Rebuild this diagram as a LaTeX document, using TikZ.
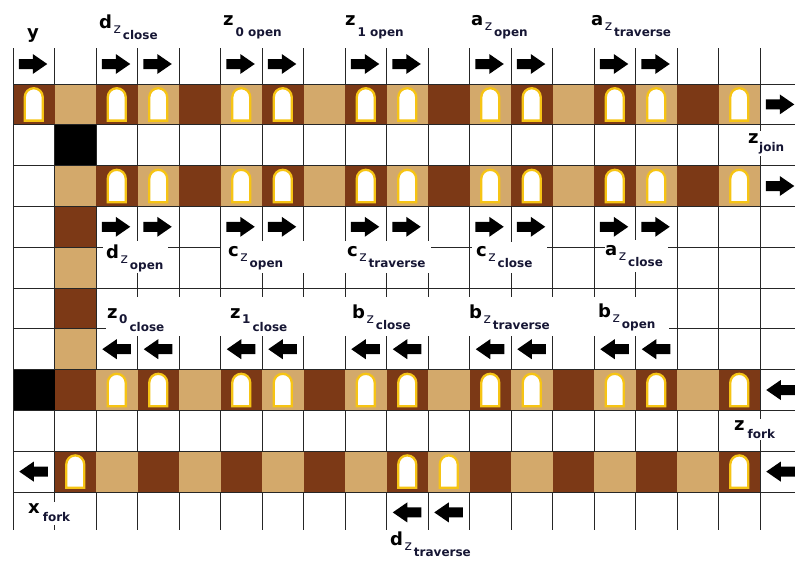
\documentclass[tikz,border=0pt]{standalone}
\usepackage{fontspec}
\setmainfont{DejaVu Sans}
\definecolor{dk}{RGB}{124,57,22}
\definecolor{tn}{RGB}{211,169,107}
\definecolor{doorc}{RGB}{246,196,20}
\definecolor{gridc}{RGB}{38,38,38}
\definecolor{subc}{RGB}{22,22,52}
\newcommand\mainf{\fontsize{18}{20}\selectfont\bfseries}
\newcommand\zf{\fontsize{14}{16}\selectfont\mdseries}
\newcommand\wf{\fontsize{12}{14}\selectfont\bfseries}
\newcommand\lzw[2]{{\mainf #1}\hspace{1.5pt}\raisebox{-5pt}{\color{subc}\zf z}\hspace{2pt}\raisebox{-11pt}{\color{subc}\wf #2}}
\newcommand\lwd[4]{{\mainf #1}\hspace{#3}\raisebox{-#4}{\color{subc}\wf #2}}
\newcommand\lnn[3]{{\mainf #1}\hspace{1.5pt}\raisebox{-5pt}{\color{subc}\wf #2}\hspace{2pt}\raisebox{-13pt}{\color{subc}\wf #3}}
\begin{document}
\begin{tikzpicture}[x=1pt,y=-1pt,
  declare function={cx(\a)=33.75+41.5*\a; ry(\a)=84+40.8*(\a-1);},
  gridline/.style={draw=gridc,line width=1pt},
  lab/.style={anchor=base west,inner sep=0pt,text=black},
  mask/.style={fill=white},
  door/.pic={\filldraw[fill=white,draw=doorc,line width=2.3pt] (-9,16.2) -- (-9,-7.2) .. controls (-9,-12.2) and (-5,-16.2) .. (0,-16.2) .. controls (5,-16.2) and (9,-12.2) .. (9,-7.2) -- (9,16.2) -- cycle;},
  rarr/.pic={\fill[black] (-14,-5) -- (0,-5) -- (0,-10) -- (14.5,0) -- (0,10) -- (0,5) -- (-14,5) -- cycle;},
  larr/.pic={\fill[black] (14,-5) -- (0,-5) -- (0,-10) -- (-14.5,0) -- (0,10) -- (0,5) -- (14,5) -- cycle;}]
\useasboundingbox (0,0) rectangle (795,562);
\fill[white] (0,0) rectangle (795,562);
% coloured cells
\foreach \k in {0,...,17}{
  \ifodd\k \def\ca{tn}\def\cb{dk}\else\def\ca{dk}\def\cb{tn}\fi
  \fill[\ca] ({13+41.5*\k},{ry(1)}) rectangle ++(41.8,40.8);
  \ifnum\k>0
    \fill[\ca] ({13+41.5*\k},{ry(3)}) rectangle ++(41.8,40.8);
    \fill[\cb] ({13+41.5*\k},{ry(8)}) rectangle ++(41.8,40.8);
    \fill[\cb] ({13+41.5*\k},{ry(10)}) rectangle ++(41.8,40.8);
  \fi
}
\fill[black] (54.5,{ry(2)}) rectangle ++(41.5,40.8);
\fill[black] (13,{ry(8)}) rectangle ++(41.5,40.8);
\fill[dk] (54.5,{ry(4)}) rectangle ++(41.5,40.8);
\fill[tn] (54.5,{ry(5)}) rectangle ++(41.5,40.8);
\fill[dk] (54.5,{ry(6)}) rectangle ++(41.5,40.8);
\fill[tn] (54.5,{ry(7)}) rectangle ++(41.5,40.8);
% grid lines
\foreach \j in {1,...,11} \draw[gridline] (13,{ry(\j)}) -- (795,{ry(\j)});
\foreach \k in {1,...,17}{
  \draw[gridline] ({13+41.5*\k},48) -- ({13+41.5*\k},{ry(1)});
  \draw[gridline] ({13+41.5*\k},{ry(2)}) -- ({13+41.5*\k},{ry(3)});
  \draw[gridline] ({13+41.5*\k},{ry(4)}) -- ({13+41.5*\k},{ry(8)});
  \draw[gridline] ({13+41.5*\k},{ry(9)}) -- ({13+41.5*\k},{ry(10)});
  \draw[gridline] ({13+41.5*\k},{ry(11)}) -- ({13+41.5*\k},530);
}
\draw[gridline] (13,48) -- (13,530);
\draw[gridline] (760,48) -- (760,530);
\draw[gridline] (54.5,{ry(3)}) -- (54.5,{ry(4)});
\draw[gridline] (54.5,{ry(10)}) -- (54.5,{ry(11)});
% doors
\foreach \k in {0,2,3,5,6,8,9,11,12,14,15,17} \pic at ({cx(\k)},{ry(1)+20.4}) {door};
\foreach \k in {2,3,5,6,8,9,11,12,14,15,17}{
  \pic at ({cx(\k)},{ry(3)+20.4}) {door};
  \pic at ({cx(\k)},{ry(8)+20.4}) {door};
}
\foreach \k in {1,9,10,17} \pic at ({cx(\k)},{ry(10)+20.4}) {door};
% arrows
\foreach \k in {0,2,3,5,6,8,9,11,12,14,15} \pic at ({cx(\k)-1},64) {rarr};
\foreach \k in {2,3,5,6,8,9,11,12,14,15}{
  \pic at ({cx(\k)-1},{ry(4)+20.4}) {rarr};
  \pic at ({cx(\k)},{ry(7)+20.4}) {larr};
}
\pic at ({cx(18)-1},{ry(1)+20.4}) {rarr};
\pic at ({cx(18)-1},{ry(3)+20.4}) {rarr};
\pic at ({cx(18)},{ry(8)+20.4}) {larr};
\pic at ({cx(18)},{ry(10)+20.4}) {larr};
\pic at ({cx(0)},{ry(10)+20.4}) {larr};
\foreach \k in {9,10} \pic at ({cx(\k)},{ry(11)+20.4}) {larr};
% white boxes behind labels
\fill[mask] (103,241) rectangle (168,273);
\fill[mask] (221.3,241) rectangle (431,273);
\fill[mask] (472,242) rectangle (547,273);
\fill[mask] (605,240) rectangle (668,272);
\fill[mask] (106,297) rectangle (669,336);
\fill[mask] (745,131) rectangle (781,156);
\fill[mask] (731,419) rectangle (776,440);
\fill[mask] (24,502) rectangle (72,525);
% labels
\node[lab] (ly) at (27,38) {\mainf y};
\node[lab] (ldzc) at (99,28) {\lzw{d}{close}};
\node[lab] (lz0o) at (223,25) {\lwd{z}{0 open}{2pt}{11pt}};
\node[lab] (lz1o) at (345,25) {\lwd{z}{1 open}{2pt}{11pt}};
\node[lab] (lazo) at (471,25) {\lzw{a}{open}};
\node[lab] (lazt) at (591,25) {\lzw{a}{traverse}};
\node[lab] (ldzo) at (106,258) {\lzw{d}{open}};
\node[lab] (lczo) at (228,256) {\lzw{c}{open}};
\node[lab] (lczt) at (347,256) {\lzw{c}{traverse}};
\node[lab] (lczc) at (476,256) {\lzw{c}{close}};
\node[lab] (lazc) at (605,255) {\lzw{a}{close}};
\node[lab] (lz0c) at (107,318) {\lnn{z}{0}{close}};
\node[lab] (lz1c) at (230,318) {\lnn{z}{1}{close}};
\node[lab] (lbzc) at (352,318) {\lzw{b}{close}};
\node[lab] (lbzt) at (469,318) {\lzw{b}{traverse}};
\node[lab] (lbzo) at (598,317) {\lzw{b}{open}};
\node[lab] (lzj) at (748,143) {\lwd{z}{join}{0.5pt}{8pt}};
\node[lab] (lzf) at (734,430) {\lwd{z}{fork}{3pt}{8pt}};
\node[lab] (lxf) at (28,513) {\lwd{x}{fork}{3pt}{8pt}};
\node[lab] (ldzt) at (390,545) {\lzw{d}{traverse}};
\end{tikzpicture}
\end{document}
